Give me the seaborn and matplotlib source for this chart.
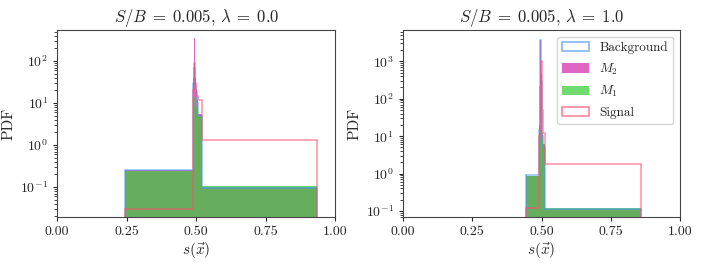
import numpy as np
import pandas as pd
import seaborn as sns
import matplotlib
matplotlib.use("Agg")
import matplotlib.pyplot as plt
from matplotlib.patches import Patch

# Bin edges and PDF heights
edges_l = [0.245, 0.488, 0.491, 0.493, 0.495, 0.497, 0.500, 0.503, 0.508, 0.519, 0.935]
bg_l = [0.25, 30, 60, 70, 40, 25, 15, 10, 5, 0.095]
m2_l = [0.25, 40, 120, 350, 80, 40, 20, 12, 5.5, 0.1]
m1_l = [0.24, 3, 8, 14, 12, 10, 8, 6, 5, 0.105]
sig_l = [0.03, 20, 60, 90, 60, 30, 18, 15, 12, 1.3]

edges_r = [0.444, 0.491, 0.494, 0.496, 0.498, 0.500, 0.502, 0.505, 0.511, 0.858]
bg_r = [0.9, 15, 40, 3700, 300, 30, 10, 5, 0.11]
m2_r = [0.85, 20, 60, 3700, 500, 40, 12, 6, 0.115]
m1_r = [0.85, 5, 10, 15, 14, 10, 8, 6, 0.12]
sig_r = [0.12, 10, 40, 200, 1000, 200, 50, 12, 1.75]

lambdas = ["0.0", "1.0"]
xticks = [0.0, 0.25, 0.5, 0.75, 1.0]

sns.set_style("ticks")
plt.rcParams["font.family"] = ["cmr10"]
plt.rcParams["mathtext.fontset"] = "cm"
plt.rcParams["axes.formatter.use_mathtext"] = True
plt.rcParams["axes.edgecolor"] = "#444444"

c_bg = "#4a9af5"
c_m2 = "#d633b0"
c_m1 = "limegreen"
c_sig = "#ff5070"


def outline(ax, edges, heights, color, ylim):
    sns.histplot(x=[(a + b) / 2 for a, b in zip(edges[:-1], edges[1:])],
                 weights=heights, bins=edges, element="step", fill=False,
                 color=color, alpha=0.6, linewidth=1.2, ax=ax)
    # close the step outline down to the axis at both ends
    ax.vlines([edges[0], edges[-1]], ylim[0] * 0.5, [heights[0], heights[-1]],
              color=color, alpha=0.6, linewidth=1.2)


def draw(ax, edges, bg, m2, m1, sig, lam, ylim):
    centers = [(a + b) / 2 for a, b in zip(edges[:-1], edges[1:])]
    sns.histplot(x=centers, weights=m2, bins=edges, element="step", fill=True,
                 color=c_m2, alpha=0.75, linewidth=0, ax=ax)
    sns.histplot(x=centers, weights=m1, bins=edges, element="step", fill=True,
                 color=c_m1, alpha=0.7, linewidth=0, ax=ax)
    outline(ax, edges, bg, c_bg, ylim)
    outline(ax, edges, sig, c_sig, ylim)
    ax.set_yscale("log")
    ax.set_xlim(0, 1)
    ax.set_ylim(*ylim)
    ax.set_xticks(xticks)
    ax.set_xticklabels([f"{t:.2f}" for t in xticks])
    ax.set_xlabel(r"$s(\vec{x})$", fontsize=11, labelpad=2)
    ax.set_ylabel("PDF", fontsize=11, labelpad=3)
    ax.set_title(r"$S/B\;=\;0.005$, $\lambda\;=\;" + lam + "$", fontsize=12)
    ax.tick_params(labelsize=10, length=3)


fig = plt.figure(figsize=(7.06, 2.65), dpi=100)
ax1 = fig.add_axes([0.081, 0.181, 0.394, 0.706])
ax2 = fig.add_axes([0.571, 0.181, 0.392, 0.706])

draw(ax1, edges_l, bg_l, m2_l, m1_l, sig_l, lambdas[0], (0.0194, 550))
draw(ax2, edges_r, bg_r, m2_r, m1_r, sig_r, lambdas[1], (0.069, 6900))

handles = [
    Patch(facecolor="none", edgecolor=c_bg, alpha=0.7, linewidth=1.2),
    Patch(facecolor=c_m2, alpha=0.75, linewidth=0),
    Patch(facecolor=c_m1, alpha=0.7, linewidth=0),
    Patch(facecolor="none", edgecolor=c_sig, alpha=0.7, linewidth=1.2),
]
ax2.legend(handles, ["Background", r"$M_2$", r"$M_1$", "Signal"],
           loc="upper right", fontsize=9.5, handlelength=2.0,
           labelspacing=0.55, borderaxespad=0.5)

fig.savefig("out.png", dpi=100)
